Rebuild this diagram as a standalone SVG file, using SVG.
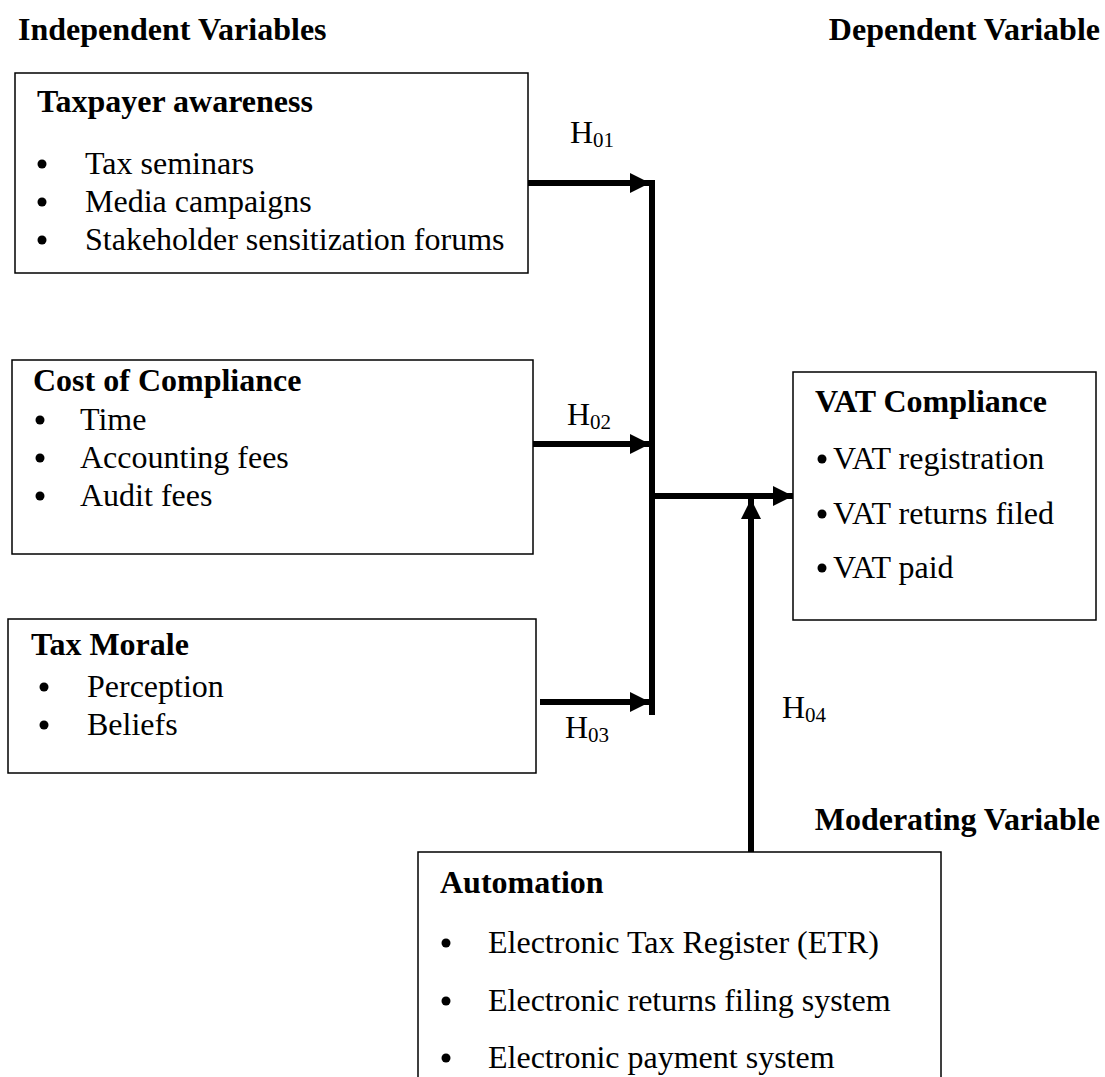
<svg xmlns="http://www.w3.org/2000/svg" width="1105" height="1077" viewBox="0 0 1105 1077">
<defs>
<style>
text{font-family:"Liberation Serif","Times New Roman",serif;font-size:32px;fill:#000}
.b{font-weight:bold}
.box{fill:#fff;stroke:#000;stroke-width:1.5}
.c{stroke:#000;stroke-width:6;fill:none}
.sub{font-size:21px}
</style>
<marker id="ah" viewBox="0 0 20 20" refX="20" refY="10" markerWidth="20" markerHeight="20" markerUnits="userSpaceOnUse" orient="auto">
<path d="M0,0 L20,10 L0,20 z" fill="#000"/>
</marker>
</defs>
<rect width="1105" height="1077" fill="#fff"/>
<text class="b" x="18" y="40">Independent Variables</text>
<text class="b" x="1100" y="40" text-anchor="end">Dependent Variable</text>
<text class="b" x="1100" y="830" text-anchor="end">Moderating Variable</text>

<g id="taxpayer-awareness">
<rect class="box" x="15" y="73" width="513" height="200"/>
<text class="b" x="37" y="112">Taxpayer awareness</text>
<circle cx="42" cy="164" r="4.5"/><text x="85" y="174">Tax seminars</text>
<circle cx="42" cy="202" r="4.5"/><text x="85" y="212">Media campaigns</text>
<circle cx="42" cy="240" r="4.5"/><text x="85" y="250">Stakeholder sensitization forums</text>
</g>

<g id="cost-of-compliance">
<rect class="box" x="12" y="360" width="521" height="194"/>
<text class="b" x="33" y="391">Cost of Compliance</text>
<circle cx="40" cy="420" r="4.5"/><text x="80" y="430">Time</text>
<circle cx="40" cy="458" r="4.5"/><text x="80" y="468">Accounting fees</text>
<circle cx="40" cy="496" r="4.5"/><text x="80" y="506">Audit fees</text>
</g>

<g id="tax-morale">
<rect class="box" x="8" y="619" width="528" height="154"/>
<text class="b" x="31" y="655">Tax Morale</text>
<circle cx="44" cy="687" r="4.5"/><text x="87" y="697">Perception</text>
<circle cx="44" cy="725" r="4.5"/><text x="87" y="735">Beliefs</text>
</g>

<g id="vat-compliance">
<rect class="box" x="793" y="372" width="303" height="248"/>
<text class="b" x="815" y="412">VAT Compliance</text>
<circle cx="822" cy="459" r="4.5"/><text x="833" y="469">VAT registration</text>
<circle cx="822" cy="514" r="4.5"/><text x="833" y="524">VAT returns filed</text>
<circle cx="822" cy="568" r="4.5"/><text x="833" y="578">VAT paid</text>
</g>

<g id="automation">
<rect class="box" x="418" y="852" width="523" height="240"/>
<text class="b" x="440" y="893">Automation</text>
<circle cx="446" cy="943" r="4.5"/><text x="488" y="953">Electronic Tax Register (ETR)</text>
<circle cx="446" cy="1001" r="4.5"/><text x="488" y="1011">Electronic returns filing system</text>
<circle cx="446" cy="1058" r="4.5"/><text x="488" y="1068">Electronic payment system</text>
</g>

<g id="connectors">
<line class="c" x1="528" y1="183" x2="650" y2="183" marker-end="url(#ah)"/>
<line class="c" x1="533" y1="444" x2="650" y2="444" marker-end="url(#ah)"/>
<line class="c" x1="540" y1="702" x2="650" y2="702" marker-end="url(#ah)"/>
<line class="c" x1="652" y1="180" x2="652" y2="715"/>
<line class="c" x1="652" y1="496" x2="793" y2="496" marker-end="url(#ah)"/>
<line class="c" x1="751" y1="852" x2="751" y2="499" marker-end="url(#ah)"/>
<text x="570" y="143">H<tspan class="sub" dy="4">01</tspan></text>
<text x="567" y="425">H<tspan class="sub" dy="4">02</tspan></text>
<text x="565" y="738">H<tspan class="sub" dy="4">03</tspan></text>
<text x="782" y="718">H<tspan class="sub" dy="4">04</tspan></text>
</g>
</svg>
